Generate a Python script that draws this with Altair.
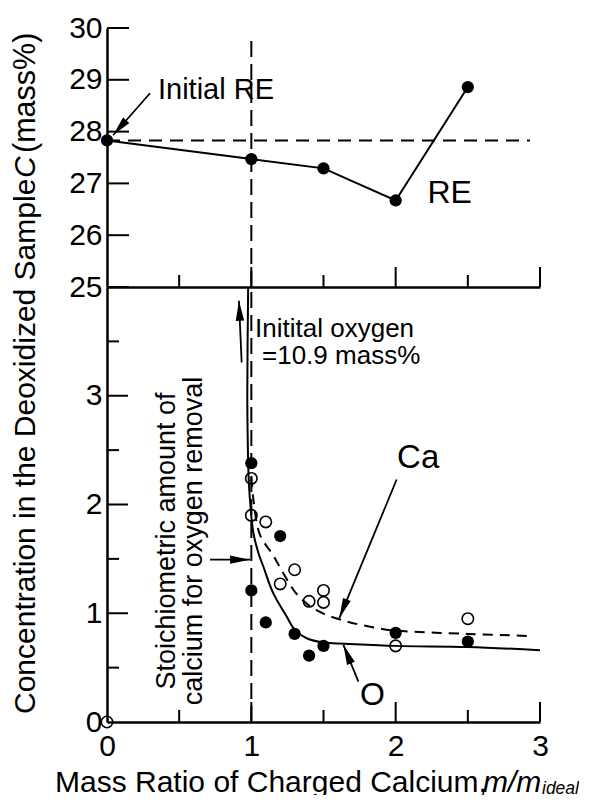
import altair as alt
import pandas as pd

FONT = "Liberation Sans"

# ---------------- data ----------------
re_x = [0, 1, 1.5, 2, 2.5]
re_y = [27.83, 27.47, 27.29, 26.67, 28.86]
re_initial = 27.83
re_ref_end = 2.93

o_x = [1.0, 1.0, 1.1, 1.2, 1.3, 1.4, 1.5, 2.0, 2.5]
o_y = [2.38, 1.21, 0.915, 1.71, 0.81, 0.61, 0.70, 0.82, 0.74]

ca_x = [0, 1.0, 1.0, 1.1, 1.2, 1.3, 1.4, 1.5, 1.5, 2.0, 2.5]
ca_y = [0, 2.24, 1.90, 1.84, 1.27, 1.40, 1.11, 1.21, 1.10, 0.70, 0.95]

o_fit_x = [0.978, 0.972, 0.975, 0.98, 0.99, 1.014, 1.05, 1.083, 1.15, 1.245, 1.30, 1.383, 1.5, 1.65, 2.0, 2.5, 3.0]
o_fit_y = [4.0, 3.0, 2.6, 2.3, 2.05, 1.74, 1.55, 1.43, 1.19, 0.97, 0.85, 0.77, 0.73, 0.72, 0.70, 0.69, 0.66]

ca_fit_x = [1.0, 1.014, 1.06, 1.148, 1.227, 1.319, 1.448, 1.66, 1.89, 2.0, 2.5, 2.95]
ca_fit_y = [2.25, 2.05, 1.72, 1.54, 1.355, 1.17, 1.03, 0.925, 0.86, 0.84, 0.81, 0.79]

stoich_x = 1.0
stoich_top = 29.77

x_labels = [0, 1, 2, 3]
x_major = [1, 2, 3]
x_minor = [0.5, 1.5, 2.5]
top_y_labels = [25, 26, 27, 28, 29, 30]
bot_y_labels = [0, 1, 2, 3]
bot_y_major = [1, 2, 3]
bot_y_minor = [0.5, 1.5, 2.5, 3.5]

# ---------------- layout ----------------
W, HT, HB = 433, 259, 435
xs = alt.Scale(domain=[0, 3], nice=False, zero=False)
yts = alt.Scale(domain=[25, 30], nice=False, zero=False)
ybs = alt.Scale(domain=[0, 4], nice=False, zero=False)
HEAD = "M0,0L0.42,2L-0.42,2Z"


def X(field="x", axis=alt.Undefined):
    return alt.X(f"{field}:Q", scale=xs, axis=axis, title=None)


def Y(scale, field="y", axis=alt.Undefined):
    return alt.Y(f"{field}:Q", scale=scale, axis=axis, title=None)


def xticks_rules(h):
    out = []
    for vals, ln in ((x_major, 20), (x_minor, 12)):
        out.append(
            alt.Chart(pd.DataFrame({"x": vals}))
            .mark_rule(color="black", strokeWidth=2)
            .encode(x=X(), y=alt.value(h), y2=alt.value(h - ln))
        )
    return out


def yticks_rules(scale, vals, ln):
    return (
        alt.Chart(pd.DataFrame({"y": vals}))
        .mark_rule(color="black", strokeWidth=2)
        .encode(y=Y(scale), x=alt.value(0), x2=alt.value(ln))
    )


def arrow(x1, y1, x2, y2, ang, scale):
    d = pd.DataFrame({"x": [x1], "y": [y1], "x2": [x2], "y2": [y2]})
    line = (
        alt.Chart(d)
        .mark_rule(color="black", strokeWidth=1.8)
        .encode(x=X(), y=Y(scale), x2="x2:Q", y2="y2:Q")
    )
    head = (
        alt.Chart(d)
        .mark_point(shape=HEAD, filled=True, size=400, color="black",
                    strokeWidth=0, opacity=1, angle=ang)
        .encode(x=X("x2"), y=Y(scale, "y2"))
    )
    return [line, head]


def dtext(txt, x, y, scale, size=30, angle=0, align="left"):
    return (
        alt.Chart(pd.DataFrame({"x": [x], "y": [y]}))
        .mark_text(text=txt, font=FONT, fontSize=size, angle=angle, align=align,
                   baseline="alphabetic", color="black")
        .encode(x=X(), y=Y(scale))
    )


def ptext(txt, px, py, size=30, style="normal", angle=0):
    return (
        alt.Chart(pd.DataFrame({"t": [txt]}))
        .mark_text(text=txt, font=FONT, fontSize=size, fontStyle=style, angle=angle,
                   align="left", baseline="alphabetic", color="black")
        .encode(x=alt.value(px), y=alt.value(py))
    )


# ---------------- top panel (RE) ----------------
re_df = pd.DataFrame({"x": re_x, "y": re_y})
top_base = (
    alt.Chart(re_df)
    .mark_line(color="black", strokeWidth=2)
    .encode(
        x=X(axis=alt.Axis(values=x_labels, labels=False)),
        y=Y(yts, axis=alt.Axis(values=top_y_labels, format="d")),
    )
)
top_pts = alt.Chart(re_df).mark_circle(color="black", size=150, opacity=1).encode(x=X(), y=Y(yts))
top_hline = (
    alt.Chart(pd.DataFrame({"x": [0], "x2": [re_ref_end], "y": [re_initial]}))
    .mark_rule(color="black", strokeWidth=2, strokeDash=[13, 8])
    .encode(x=X(), x2="x2:Q", y=Y(yts))
)
top_vline = (
    alt.Chart(pd.DataFrame({"x": [stoich_x], "y": [25], "y2": [stoich_top]}))
    .mark_rule(color="black", strokeWidth=2, strokeDash=[16, 7])
    .encode(x=X(), y=Y(yts), y2="y2:Q")
)
top_layers = [top_base, top_hline, top_vline, top_pts]
top_layers += xticks_rules(HT)
top_layers.append(yticks_rules(yts, top_y_labels, 22))
top_layers += arrow(0.298, 28.74, 0.042, 27.93, 221, yts)
top_layers.append(dtext("Initial RE", 0.353, 28.63, yts, size=29))
top_layers.append(dtext("RE", 2.22, 26.63, yts, size=32))
top = alt.layer(*top_layers).properties(width=W, height=HT)

# ---------------- bottom panel (O, Ca) ----------------
o_df = pd.DataFrame({"x": o_x, "y": o_y})
ca_df = pd.DataFrame({"x": ca_x, "y": ca_y})
ofit_df = pd.DataFrame({"x": o_fit_x, "y": o_fit_y, "i": list(range(len(o_fit_x)))})
cafit_df = pd.DataFrame({"x": ca_fit_x, "y": ca_fit_y, "i": list(range(len(ca_fit_x)))})

bot_base = (
    alt.Chart(ofit_df)
    .mark_line(color="black", strokeWidth=2, interpolate="catmull-rom")
    .encode(
        x=X(axis=alt.Axis(values=x_labels, labelPadding=9, format="d")),
        y=Y(ybs, axis=alt.Axis(values=bot_y_labels, format="d")),
        order="i:Q",
    )
)
bot_cafit = (
    alt.Chart(cafit_df)
    .mark_line(color="black", strokeWidth=2, strokeDash=[10, 7], interpolate="catmull-rom")
    .encode(x=X(), y=Y(ybs), order="i:Q")
)
bot_vline = (
    alt.Chart(pd.DataFrame({"x": [stoich_x], "y": [0], "y2": [4]}))
    .mark_rule(color="black", strokeWidth=2, strokeDash=[16, 7])
    .encode(x=X(), y=Y(ybs), y2="y2:Q")
)
bot_o = alt.Chart(o_df).mark_circle(color="black", size=150, opacity=1).encode(x=X(), y=Y(ybs))
bot_ca = (
    alt.Chart(ca_df)
    .mark_point(shape="circle", filled=False, color="black", size=130, strokeWidth=1.6, opacity=1)
    .encode(x=X(), y=Y(ybs))
)

bot_layers = [bot_base, bot_cafit, bot_vline, bot_o, bot_ca]
bot_layers += xticks_rules(HB)
bot_layers.append(yticks_rules(ybs, bot_y_major, 21))
bot_layers.append(yticks_rules(ybs, bot_y_minor, 12))
bot_layers += arrow(0.933, 3.306, 0.914, 3.874, 357, ybs)
bot_layers += arrow(0.714, 1.493, 0.991, 1.493, 90, ybs)
bot_layers += arrow(2.007, 2.23, 1.61, 0.956, 202, ybs)
bot_layers += arrow(1.742, 0.371, 1.638, 0.71, 338, ybs)
bot_layers.append(dtext("Initital oxygen", 1.026, 3.54, ybs, size=26))
bot_layers.append(dtext("=10.9 mass%", 1.074, 3.29, ybs, size=26))
bot_layers.append(dtext("Stoichiometric amount of", 0.471, 1.664, ybs, size=27, angle=270, align="center"))
bot_layers.append(dtext("calcium for oxygen removal", 0.658, 1.664, ybs, size=27, angle=270, align="center"))
bot_layers.append(dtext("Ca", 2.01, 2.34, ybs, size=33))
bot_layers.append(dtext("O", 1.753, 0.157, ybs, size=32))

# axis titles drawn as text (mixed italic parts)
bot_layers.append(ptext("Concentration in the Deoxidized Sample", -72, 427, angle=270))
bot_layers.append(ptext("C", -72, -109, style="italic", angle=270))
bot_layers.append(ptext("(mass%)", -72, -134, size=30.5, angle=270))
bot_layers.append(ptext("Mass Ratio of Charged Calcium,", -52, 505, size=30))
bot_layers.append(ptext("m/m", 376, 505, size=30, style="italic"))
bot_layers.append(ptext("ideal", 435, 507, size=17.5, style="italic"))

bottom = alt.layer(*bot_layers).properties(width=W, height=HB)

chart = (
    alt.vconcat(top, bottom, spacing=0, bounds="flush")
    .properties(padding={"left": 2, "top": 5, "right": 0, "bottom": -3})
    .configure_view(stroke=None)
    .configure_axis(
        grid=False, ticks=False, tickSize=0, domainColor="black", domainWidth=2.5,
        labelFont=FONT, labelFontSize=30, labelColor="black", labelFlush=False,
        labelOverlap=False, labelPadding=5, title=None,
    )
)

chart.save("out.html", embed_options={"renderer": "svg", "actions": False})
